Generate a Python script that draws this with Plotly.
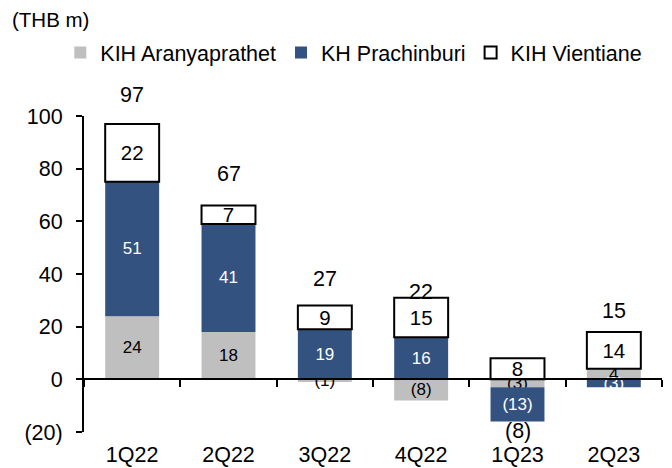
import plotly.graph_objects as go

categories = ["1Q22", "2Q22", "3Q22", "4Q22", "1Q23", "2Q23"]
aranyaprathet = [24, 18, -1, -8, -3, 4]
prachinburi = [51, 41, 19, 16, -13, -3]
vientiane = [22, 7, 9, 15, 8, 14]
totals = [97, 67, 27, 22, -8, 15]
ytick_vals = [-20, 0, 20, 40, 60, 80, 100]
ytick_text = ["(20)", "0", "20", "40", "60", "80", "100"]

FONT = "Liberation Sans, Arial, sans-serif"
BIG = 21.5


def fmt(v):
    return f"({abs(v)})" if v < 0 else str(v)


fig = go.Figure()
series = [
    ("KIH Aranyaprathet", aranyaprathet, "#BFBFBF", "black", 17, 0, "#BFBFBF"),
    ("KH Prachinburi", prachinburi, "#34527F", "white", 17, 0, "#34527F"),
    ("KIH Vientiane", vientiane, "white", "black", 20.5, 2, "black"),
]
for name, vals, color, tcolor, tsize, lw, lc in series:
    fig.add_trace(go.Bar(
        name=name, x=categories, y=vals,
        marker=dict(color=color, line=dict(color=lc, width=lw)),
        text=[fmt(v) for v in vals], textposition="inside",
        insidetextanchor="middle", constraintext="none", textangle=0,
        textfont=dict(family=FONT, size=tsize, color=tcolor),
        cliponaxis=False, hoverinfo="skip",
    ))

# invisible trace for the zero-line axis with boundary ticks
fig.add_trace(go.Scatter(x=[], y=[], xaxis="x2", showlegend=False, hoverinfo="skip"))

for c, t in zip(categories, totals):
    fig.add_annotation(
        x=c, y=t, xref="x", yref="y", text=fmt(t), showarrow=False,
        yshift=29 if t >= 0 else -31,
        font=dict(family=FONT, size=BIG, color="black"),
    )

fig.add_annotation(
    x=-0.128, y=1.304, xref="paper", yref="paper", xanchor="left", yanchor="middle",
    text="(THB m)", showarrow=False, font=dict(family=FONT, size=20.5, color="black"),
)

n = len(categories)
fig.update_layout(
    width=664, height=460,
    margin=dict(l=76, r=10, t=108, b=36, autoexpand=False),
    paper_bgcolor="white", plot_bgcolor="white",
    barmode="relative", bargap=0.44,
    font=dict(family=FONT, size=BIG, color="black"),
    showlegend=True,
    legend=dict(
        orientation="h", x=-0.041, xanchor="left", y=1.201, yanchor="middle",
        font=dict(family=FONT, size=BIG, color="black"),
        itemwidth=30, tracegroupgap=0, itemclick=False,
        traceorder="normal",
    ),
    xaxis=dict(
        type="category", categoryorder="array", categoryarray=categories,
        range=[-0.5, n - 0.5], showline=False, ticks="", showgrid=False,
        zeroline=False, automargin=False, ticklabelstandoff=7,
        tickfont=dict(family=FONT, size=BIG),
    ),
    xaxis2=dict(
        overlaying="x", anchor="free", position=1 / 6, range=[-0.5, n - 0.5],
        tickvals=[i - 0.5 for i in range(n + 1)], showticklabels=False,
        ticks="outside", ticklen=7, tickwidth=2, tickcolor="black", automargin=False,
        showline=True, linecolor="black", linewidth=2, showgrid=False, zeroline=False,
    ),
    yaxis=dict(
        range=[-20, 100], tickvals=ytick_vals, ticktext=ytick_text,
        showline=True, linecolor="black", linewidth=2, automargin=False,
        ticks="outside", ticklen=6, tickwidth=2, tickcolor="black",
        ticklabelstandoff=9,
        showgrid=False, zeroline=False, tickfont=dict(family=FONT, size=BIG),
    ),
)

fig.write_html("out.html")
